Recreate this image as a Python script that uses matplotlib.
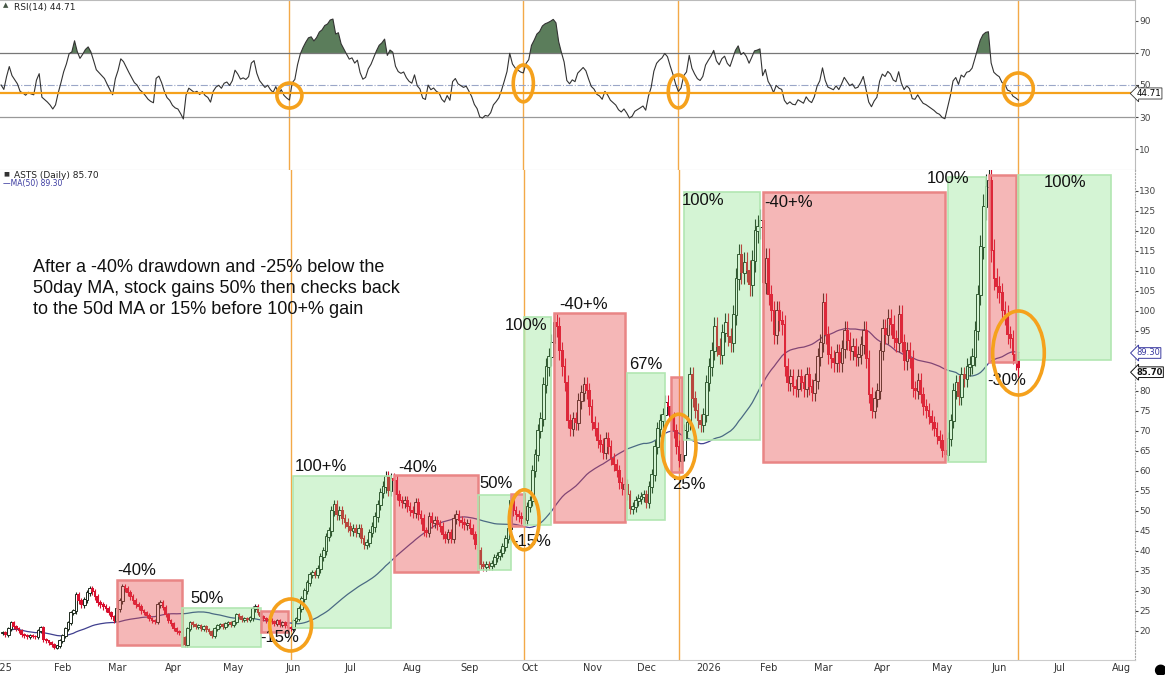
import numpy as np
import pandas as pd
import matplotlib
matplotlib.use('Agg')
import matplotlib.pyplot as plt
from matplotlib.patches import Ellipse, Rectangle

# ASTS daily closes, Jan 2 2025 .. Dec 31 2025
closes_2025 = [
    19.5, 19.0, 20.5, 22.0, 21.0, 20.5, 20.0, 19.0, 18.8, 18.5,
    18.8, 18.6, 18.5, 20.0, 20.8, 17.8, 17.4, 17.0, 16.5, 15.8,
    16.2, 17.5, 18.8, 20.5, 22.0, 24.5, 25.0, 29.0, 27.5, 26.5,
    27.8, 29.5, 30.5, 29.8, 28.5, 27.0, 26.5, 26.0, 25.5, 24.5,
    23.5, 22.5, 25.5, 27.5, 31.0, 30.5, 29.5, 28.5, 27.5, 26.5,
    26.0, 25.0, 24.5, 23.8, 23.0, 22.5, 22.2, 26.5, 27.0, 25.8,
    24.0, 22.5, 21.8, 20.5, 19.8, 19.5, 18.2, 16.5, 20.5, 22.0,
    21.5, 21.0, 21.2, 20.5, 21.0, 20.2, 19.8, 18.8, 20.5, 21.2,
    21.5, 21.0, 21.8, 22.0, 21.5, 22.2, 24.0, 23.5, 22.8, 23.0,
    22.8, 23.2, 25.5, 26.0, 24.5, 23.5, 23.0, 22.5, 22.8, 22.2,
    21.8, 22.5, 21.5, 22.0, 21.2, 20.8, 20.5, 22.5, 23.0, 25.5,
    28.0, 30.0, 32.0, 34.0, 34.5, 34.0, 35.5, 38.5, 40.0, 43.5,
    45.0, 50.0, 51.5, 49.0, 50.0, 48.0, 47.0, 46.0, 45.0, 45.5,
    44.5, 45.5, 43.0, 41.5, 42.0, 44.5, 46.0, 48.5, 51.5, 54.5,
    56.0, 58.5, 55.0, 58.0, 57.5, 54.0, 52.5, 52.0, 52.5, 51.0,
    50.0, 49.5, 52.0, 49.0, 48.0, 45.0, 44.5, 48.5, 47.0, 47.5,
    46.5, 46.0, 44.0, 43.0, 44.5, 43.0, 48.0, 49.0, 47.5, 47.0,
    46.5, 46.8, 45.5, 44.0, 41.5, 40.0, 36.5, 36.0, 36.5, 36.2,
    36.8, 38.2, 38.8, 39.5, 41.0, 43.0, 45.5, 52.5, 50.0, 49.0,
    48.5, 48.0, 47.8, 51.0, 52.5, 60.0, 64.0, 70.0, 73.0, 81.5,
    86.0, 88.5, 92.0, 97.0, 96.0, 90.0, 86.0, 82.0, 72.5, 70.5,
    73.0, 72.0, 77.5, 79.5, 81.5, 80.0, 76.0, 72.0, 70.5, 67.5,
    66.5, 64.5, 68.0, 66.0, 63.0, 61.5, 60.0, 57.0, 55.5, 56.5,
    54.0, 50.5, 51.0, 52.5, 53.0, 53.5, 54.0, 52.0, 56.0, 59.0,
    66.0, 70.5, 72.5, 74.0, 77.0, 76.0, 73.0, 70.0, 66.0, 62.5,
    64.0, 70.0, 72.0, 84.0, 78.0, 75.0, 72.5, 71.5, 74.0, 82.0,
]
# Jan 1 2026 .. Jun 10 2026
closes_2026 = [
    86.0, 90.0, 96.0, 91.0, 89.0, 94.5, 97.0, 93.5, 92.0, 99.0,
    108.0, 114.0, 109.5, 112.0, 110.0, 106.5, 112.5, 120.0, 121.0, 122.5,
    107.0, 113.0, 104.0, 100.0, 94.0, 100.0, 97.5, 96.5, 86.0, 82.0,
    83.5, 81.0, 80.5, 83.5, 82.0, 80.5, 84.0, 81.0, 79.5, 82.5,
    88.5, 92.0, 102.0, 94.0, 89.0, 88.0, 87.0, 89.5, 87.0, 90.5,
    95.0, 92.5, 90.0, 91.0, 88.5, 89.0, 91.5, 95.0, 88.0, 79.0,
    75.0, 78.0, 80.0, 90.0, 95.5, 94.0, 98.0, 96.5, 93.0, 92.0,
    99.0, 92.0, 87.5, 90.0, 88.0, 80.5, 80.0, 82.5, 79.0, 76.0,
    75.0, 73.5, 72.0, 70.5, 68.5, 67.5, 65.0, 64.0, 68.0, 72.5,
    80.0, 82.0, 78.5, 84.0, 83.0, 86.0, 86.5, 88.5, 95.0, 104.0,
    116.0, 126.0, 131.0, 132.5, 115.0, 108.0, 106.0, 104.5, 100.0, 99.0,
    94.0, 93.0, 89.0, 87.5, 85.7,
]

last_close = 85.70
last_ma = 89.30
last_rsi = 44.71

# days marked with orange verticals / circles
signal_dates = ['2025-05-30', '2025-09-29', '2025-12-17', '2026-06-10']
signal_price = [21.5, 47.8, 66.2, 89.5]
signal_rsi = [43.4, 51.0, 46.0, 47.5]

# measured-move boxes
zone_start = ['2025-03-03', '2025-04-04', '2025-05-15', '2025-06-02', '2025-07-23', '2025-09-04',
              '2025-09-22', '2025-09-29', '2025-10-14', '2025-11-20', '2025-12-12', '2025-12-19',
              '2026-01-29', '2026-05-05', '2026-05-26', '2026-06-10']
zone_end = ['2025-04-04', '2025-05-15', '2025-05-29', '2025-07-22', '2025-09-04', '2025-09-22',
            '2025-09-29', '2025-10-13', '2025-11-19', '2025-12-10', '2025-12-18', '2026-01-28',
            '2026-05-04', '2026-05-25', '2026-06-09', '2026-07-28']
zone_low = [16.5, 16.0, 19.8, 20.8, 34.8, 35.3, 46.3, 46.5, 47.3, 47.8, 59.8, 67.8,
            62.3, 62.3, 87.3, 87.8]
zone_high = [32.8, 25.8, 25.0, 58.8, 59.0, 54.0, 54.3, 98.5, 99.5, 84.5, 83.5, 129.8,
             129.8, 133.5, 134.0, 134.0]
zone_text = ['-40%', '50%', '-15%', '100+%', '-40%', '50%', '-15%', '100%', '-40+%', '67%',
             '25%', '100%', '-40+%', '100%', '-30%', '100%']
zone_kind = ['down', 'up', 'down', 'up', 'down', 'up', 'down', 'up', 'down', 'up',
             'down', 'up', 'down', 'up', 'down', 'up']

note = ("After a -40% drawdown and -25% below the\n"
        "50day MA, stock gains 50% then checks back\n"
        "to the 50d MA or 15% before 100+% gain")

# ---- derived series ----
close = np.array(closes_2025 + closes_2026)
n = len(close)
dates = pd.bdate_range('2025-01-01', periods=430)
xs = np.arange(1, n + 1)   # index 0 = Jan 1 2025 (market closed)


def pos(d):
    return dates.searchsorted(pd.Timestamp(d))


ma50 = pd.Series(close).rolling(50, min_periods=1).mean().values

# Wilder RSI(14)
delta = np.diff(close, prepend=close[0])
gain = np.clip(delta, 0, None)
loss = np.clip(-delta, 0, None)
a_g = a_l = np.abs(delta[1:15]).mean() / 2
rsi = np.empty(n)
for k in range(n):
    a_g = (a_g * 13 + gain[k]) / 14
    a_l = (a_l * 13 + loss[k]) / 14
    rsi[k] = 100 * a_g / (a_g + a_l)

opens = np.r_[close[0], close[:-1]]
up = close >= opens
body_lo = np.minimum(opens, close)
body_hi = np.maximum(opens, close)

# ---- figure ----
fig = plt.figure(figsize=(11.65, 6.75), dpi=100)
W, H = 1165, 675
ax_r = fig.add_axes([0, 1 - 170 / H, 1135 / W, 170 / H])
ax = fig.add_axes([0, 1 - 660 / H, 1135 / W, 490 / H])

xlim = (0.59, 417.9)
orange = '#f5a11c'
vline_c = '#f3a948'
red = '#d8102f'
dark = '#1e2a1e'

# RSI panel
ax_r.set_xlim(*xlim)
ax_r.set_ylim(-3.1, 103.1)
ax_r.axhline(70, color='#777777', lw=0.9)
ax_r.axhline(30, color='#999999', lw=0.9)
ax_r.axhline(50, color='#9aa6c8', lw=0.8, ls='-.')
ax_r.fill_between(xs, 70, rsi, where=rsi > 70, interpolate=True, color='#5b7d5b', lw=0)
ax_r.plot(xs, rsi, color='#333333', lw=0.8)
ax_r.axhline(last_rsi, color=orange, lw=1.6)
ax_r.set_xticks([])
ax_r.yaxis.tick_right()
ax_r.set_yticks([10, 30, 50, 70, 90])
ax_r.tick_params(axis='y', labelsize=6.5, length=2, pad=1, colors='#444444')
ax_r.spines['left'].set_visible(False)
for s in ['top', 'bottom', 'right']:
    ax_r.spines[s].set_color('#bbbbbb')
ax_r.text(1.001, last_rsi, f'{last_rsi:.2f}', transform=ax_r.get_yaxis_transform(),
          fontsize=6.3, va='center', ha='left', zorder=10,
          bbox=dict(boxstyle='larrow,pad=0.12', fc='white', ec='#333333', lw=0.6))
ax_r.text(0.012, 0.985, 'RSI(14) 44.71', transform=ax_r.transAxes, fontsize=6.5,
          va='top', ha='left', color='#222222')
ax_r.text(0.003, 0.985, '\u25b2', transform=ax_r.transAxes, fontsize=5,
          va='top', ha='left', color='#445544')

# price panel
ax.set_xlim(*xlim)
ax.set_ylim(12.75, 135.25)

for s0, s1, lo_, hi_, kind in zip(zone_start, zone_end, zone_low, zone_high, zone_kind):
    x0, x1 = pos(s0), pos(s1)
    if kind == 'down':
        fc, ec, lw = (0.9, 0.3, 0.3, 0.40), '#e98585', 1.8
    else:
        fc, ec, lw = (0.4, 0.85, 0.4, 0.28), '#b2e6b2', 1.2
    ax.add_patch(Rectangle((x0, lo_), x1 - x0, hi_ - lo_, fc=fc, ec=ec, lw=lw, zorder=3))

ax.plot(xs, ma50, color='#40408f', lw=0.9, zorder=2)
ax.vlines(xs, body_lo * 0.975, body_hi * 1.025, colors=np.where(up, dark, red), lw=0.8, zorder=2)
ax.bar(xs[up], (body_hi - body_lo)[up] + 0.25, bottom=body_lo[up], width=1.0,
       facecolor='white', edgecolor=dark, lw=0.7, zorder=2.5)
ax.bar(xs[~up], (body_hi - body_lo)[~up] + 0.25, bottom=body_lo[~up], width=1.0,
       color=red, lw=0, zorder=2.5)

# box labels: (anchor corner, ha, va, offset in points)
label_place = [
    ('tl', 'left', 'bottom', (0, 1)), ('tl', 'left', 'bottom', (6, 1)),
    ('bl', 'left', 'top', (0, 1)), ('tl', 'left', 'bottom', (1, 1)),
    ('tl', 'left', 'bottom', (3, 0)), ('tl', 'left', 'bottom', (1, 3)),
    ('bl', 'left', 'top', (1, -6)), ('tr', 'right', 'top', (-3, -1)),
    ('tl', 'left', 'bottom', (4, 1)), ('tl', 'left', 'bottom', (1, 1)),
    ('bl', 'left', 'top', (1, -4)), ('tl', 'left', 'top', (-2, -1)),
    ('tl', 'left', 'top', (1, -2)), ('tl', 'center', 'center', (0, -1)),
    ('bl', 'left', 'top', (-1, -8)), ('tl', 'left', 'top', (18, 0)),
]
for s0, s1, lo_, hi_, txt, (corner, ha, va, off) in zip(zone_start, zone_end, zone_low,
                                                        zone_high, zone_text, label_place):
    x = pos(s1) if corner[1] == 'r' else pos(s0)
    y = hi_ if corner[0] == 't' else lo_
    ax.annotate(txt, (x, y), xytext=off, textcoords='offset points', ha=ha, va=va,
                fontsize=12, family=['Liberation Sans', 'DejaVu Sans'], color='#111111',
                zorder=6)

for d, p_, r_, w, h, rw, rh in zip(signal_dates, signal_price, signal_rsi,
                                   [15.4, 11.0, 12.5, 19.0], [13.0, 15.0, 16.0, 21.0],
                                   [9.2, 7.4, 7.4, 11.0], [15.6, 23.0, 20.6, 20.0]):
    x = pos(d)
    ax.axvline(x, color=vline_c, lw=1.0, zorder=1)
    ax_r.axvline(x, color=vline_c, lw=1.0, zorder=1)
    ax.add_patch(Ellipse((x, p_), w, h, fill=False, ec=orange, lw=2.6, zorder=7))
    ax_r.add_patch(Ellipse((x, r_), rw, rh, fill=False, ec=orange, lw=2.6, zorder=7))

ax.text(0.029, 0.818, note, transform=ax.transAxes, va='top', ha='left', fontsize=13,
        linespacing=1.3, family=['Liberation Sans', 'DejaVu Sans'], color='#111111')

ax.text(0.012, 0.998, 'ASTS (Daily) 85.70', transform=ax.transAxes, fontsize=6.5,
        va='top', ha='left', color='#222222')
ax.text(0.003, 0.998, '\u25a0', transform=ax.transAxes, fontsize=4.5,
        va='top', ha='left', color='#333333')
ax.text(0.003, 0.981, '\u2014MA(50) 89.30', transform=ax.transAxes, fontsize=5.5,
        va='top', ha='left', color='#3a3aa0')

# axes
month_start = pd.date_range('2025-01-01', '2026-08-01', freq='MS')
ax.set_xticks([pos(m) for m in month_start])
ax.set_xticklabels([m.strftime('%Y') if m.month == 1 else m.strftime('%b') for m in month_start])
ax.tick_params(axis='x', labelsize=7, length=0, pad=2, colors='#333333')
ax.yaxis.tick_right()
price_ticks = np.arange(20, 131, 5)
ax.set_yticks(price_ticks)
# 85 and 90 sit under the value tags
ax.set_yticklabels(['' if t in (85, 90) else str(t) for t in price_ticks])
ax.tick_params(axis='y', labelsize=6.5, length=2, pad=1, colors='#444444')
ax.spines['left'].set_visible(False)
ax.spines['top'].set_visible(False)
ax.spines['bottom'].set_color('#cccccc')
ax.spines['right'].set_color('#aaaaaa')
ax.spines['right'].set_linestyle(':')

tr = ax.get_yaxis_transform()
ax.text(1.001, last_ma + 0.2, f'{last_ma:.2f}', transform=tr, fontsize=6.0, va='center',
        ha='left', color='#3a3aa0', zorder=10,
        bbox=dict(boxstyle='larrow,pad=0.1', fc='white', ec='#3a3aa0', lw=0.7))
ax.text(1.001, last_close - 1.0, f'{last_close:.2f}', transform=tr, fontsize=6.0,
        va='center', ha='left', color='#111111', fontweight='bold', zorder=10,
        bbox=dict(boxstyle='larrow,pad=0.1', fc='white', ec='#111111', lw=0.7))

fig.text(1160 / W, 1 - 669 / H, '\u25cf', fontsize=11, ha='center', va='center', color='black')

fig.savefig('out.png', dpi=100)
